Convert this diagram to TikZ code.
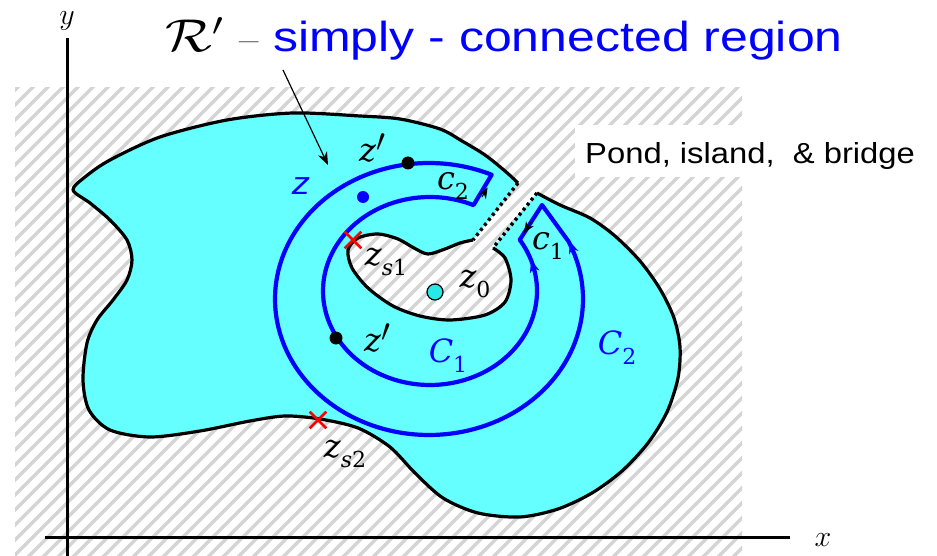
\RequirePackage{fix-cm}
\documentclass[tikz,border=0pt]{standalone}
\usepackage{fontspec}
\setsansfont{Liberation Sans}
\newfontfamily\labfont{DejaVu Serif}
\newcommand\mylab[2]{{\labfont\itshape #1}\raisebox{-0.32em}{\labfont\fontsize{22}{24}\selectfont #2}}
\newcommand\myprime{\raisebox{0.3em}{$\prime$}}
\usetikzlibrary{arrows.meta,shapes.misc}
\definecolor{regioncyan}{RGB}{102,255,255}
\definecolor{hatchgray}{RGB}{212,212,212}
\definecolor{dotcyan}{RGB}{40,232,232}
\begin{document}
\begin{tikzpicture}[x=1pt,y=-1pt,
  hatchline/.style={hatchgray, line width=3.2pt},
  outline/.style={black, line width=3.2pt, line join=round},
  bridgeline/.style={black, line width=3.4pt, dash pattern=on 3pt off 3.4pt},
  contour/.style={blue, line width=4.2pt, line join=round},
  tipblue/.style={blue, line width=1pt, -{Stealth[length=12pt,width=10pt]}},
  tipblack/.style={black, line width=1pt, -{Stealth[length=11pt,width=9pt]}},
  axis/.style={black, line width=3pt},
  mathlab/.style={font=\fontsize{32}{38}\selectfont, inner sep=0pt},
  dotmark/.style={circle, inner sep=0pt, minimum size=#1},
  redx/.style={cross out, draw=red, line width=2.6pt, minimum size=14pt, inner sep=0pt}
]
\path[use as bounding box] (0,0) rectangle (937,556);
% hatched background
\begin{scope}
  \clip (15,88) rectangle (742,556);
  \foreach \i in {-560,-545,...,760} \draw[hatchline] (\i,560) -- ++(570,-570);
\end{scope}
\fill[white] (575,125) rectangle (746,177);
% region with pond, island and bridge removed
\fill[regioncyan] plot[smooth] coordinates {(518,183) (505,171) (485,155) (462,141) (440,129) (400,119) (360,116) (293,113) (227,120) (160,137) (110,160) (85,177) (73,190) (90,203) (110,220) (127,240) (132,260) (127,280) (113,300) (97,320) (87,343) (83,380) (89,410) (110,430) (150,437) (200,431) (250,421) (285,416) (320,419) (358,428) (390,447) (415,473) (443,498) (478,513) (520,517) (558,509) (592,493) (622,471) (648,443) (667,412) (678,378) (680,347) (674,318) (660,289) (640,261) (615,236) (590,218) (560,205) (537,193)}
  -- plot[smooth] coordinates {(493,248) (505,258) (511,280) (505,302) (485,315) (450,320) (420,316) (393,306) (368,288) (352,268) (348,250) (358,238) (378,234) (398,239) (414,248) (428,254) (445,249) (460,243) (473,240)} -- cycle;
\draw[outline] plot[smooth] coordinates {(518,183) (505,171) (485,155) (462,141) (440,129) (400,119) (360,116) (293,113) (227,120) (160,137) (110,160) (85,177) (73,190) (90,203) (110,220) (127,240) (132,260) (127,280) (113,300) (97,320) (87,343) (83,380) (89,410) (110,430) (150,437) (200,431) (250,421) (285,416) (320,419) (358,428) (390,447) (415,473) (443,498) (478,513) (520,517) (558,509) (592,493) (622,471) (648,443) (667,412) (678,378) (680,347) (674,318) (660,289) (640,261) (615,236) (590,218) (560,205) (537,193)};
\draw[outline] plot[smooth] coordinates {(493,248) (505,258) (511,280) (505,302) (485,315) (450,320) (420,316) (393,306) (368,288) (352,268) (348,250) (358,238) (378,234) (398,239) (414,248) (428,254) (445,249) (460,243) (473,240)};
\coordinate (bridgeA1) at (518,183);
\coordinate (bridgeA2) at (473,240);
\coordinate (bridgeB1) at (537,193);
\coordinate (bridgeB2) at (493,248);
\draw[bridgeline] (bridgeA1) -- (bridgeA2);
\draw[bridgeline] (bridgeB1) -- (bridgeB2);
% axes
\coordinate (ytop) at (67,38);
\coordinate (ybot) at (67,556);
\coordinate (xleft) at (45,537);
\coordinate (xright) at (790,537);
\draw[axis] (ytop) -- (ybot);
\draw[axis] (xleft) -- (xright);
\node[font=\fontsize{30}{36}\selectfont, anchor=base, inner sep=0pt] (ylab) at (67,25) {$y$};
\node[font=\fontsize{30}{36}\selectfont, anchor=base, inner sep=0pt] (xlab) at (823,546) {$x$};
% keyhole contour
\coordinate (c1top) at (542,205);
\draw[contour] plot[domain=-33:294, samples=140, variable=\t] ({430+107*cos(\t)}, {291+94*sin(\t)})
  -- plot[domain=294:-25, samples=160, variable=\t] ({429+154*cos(\t)}, {299+136*sin(\t)})
  -- (c1top) -- cycle;
\coordinate (aoB) at (574.5,254.5); \coordinate (aoT) at (569.5,241.5);
\coordinate (aiB) at (535.2,273.5); \coordinate (aiT) at (531.2,260.4);
\coordinate (a1B) at (531,222); \coordinate (a1T) at (524,233);
\coordinate (a2B) at (482,197); \coordinate (a2T) at (487.6,187.5);
\draw[tipblue] (aoB) -- (aoT);
\draw[tipblue] (aiB) -- (aiT);
\draw[tipblack] (a1B) -- (a1T);
\draw[tipblack] (a2B) -- (a2T);
% points
\node[dotmark=13pt, fill=black] (zp1) at (408,163) {};
\node[dotmark=12pt, fill=blue] (zb) at (363,197) {};
\node[dotmark=16pt, fill=dotcyan, draw=black, line width=1.2pt] (z0) at (435,292) {};
\node[dotmark=13pt, fill=black] (zp2) at (336,338) {};
\node[redx] (s1) at (353,240) {};
\node[redx] (s2) at (318,420) {};
% labels
\node[mathlab] (lzp1) at (372,148) {{\labfont\itshape z}\myprime};
\node[inner sep=0pt, xscale=1.14, text=blue, font=\sffamily\itshape\fontsize{32}{38}\selectfont] (lz) at (301,186) {z};
\node[mathlab] (lzs1) at (386,262) {\mylab{z}{{\itshape s}1}};
\node[mathlab] (lz0) at (475,284) {\mylab{z}{0}};
\node[mathlab] (lzp2) at (377,338) {{\labfont\itshape z}\myprime};
\node[mathlab, text=blue] (lC1) at (448,356) {\mylab{C}{1}};
\node[mathlab, text=blue] (lC2) at (617,348) {\mylab{C}{2}};
\node[mathlab] (lzs2) at (345,454) {\mylab{z}{{\itshape s}2}};
\node[mathlab] (lc2) at (453,186) {\mylab{c}{2}};
\node[mathlab] (lc1) at (548,246) {\mylab{c}{1}};
% title
\node[anchor=base west, inner sep=0pt, xscale=1.2, font=\fontsize{46}{52}\selectfont] (rprime) at (165,52) {$\mathcal{R}'$};
\node[anchor=base west, inner sep=0pt, font=\fontsize{42}{50}\selectfont] (dash) at (239,54) {--};
\node[anchor=base west, inner sep=0pt, xscale=1.19, text=blue, font=\sffamily\fontsize{42}{50}\selectfont] (title) at (273,52) {simply - connected region};
\coordinate (arrS) at (283,70);
\coordinate (arrE) at (328,165);
\draw[black, line width=1.2pt, -{Stealth[length=13pt,width=10pt]}] (arrS) -- (arrE);
\node[anchor=base west, inner sep=0pt, xscale=1.13, font=\sffamily\fontsize{29}{34}\selectfont] (pond) at (585,164) {Pond, island,~ \& bridge};
\end{tikzpicture}
\end{document}
